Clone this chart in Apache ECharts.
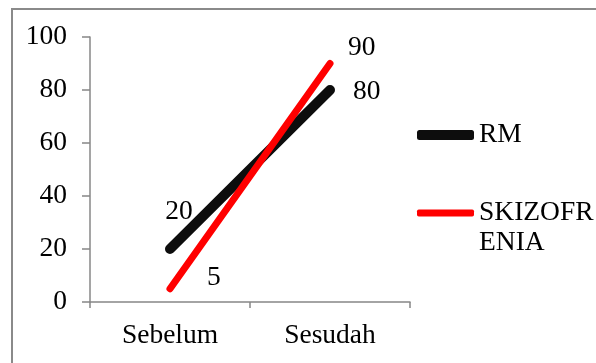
<!DOCTYPE html>
<html><head><meta charset="utf-8">
<script src="https://cdn.jsdelivr.net/npm/echarts@6/dist/echarts.min.js"></script>
<style>html,body{margin:0;padding:0;background:#fff}#c{width:596px;height:363px}</style>
</head><body><div id="c"></div>
<script>
const categories = ['Sebelum', 'Sesudah'];
const rmValues = [20, 80];
const skizoValues = [5, 90];
const yTicks = [0, 20, 40, 60, 80, 100];
const seriesNames = ['RM', 'SKIZOFRENIA'];

const font = 'Liberation Serif';
const fs = 27.5;
const chart = echarts.init(document.getElementById('c'), null, {renderer: 'canvas'});
const lbl = (pos, dist, off) => ({show: true, position: pos, distance: dist, offset: off, color: '#000', fontFamily: font, fontSize: fs});

chart.setOption({
  animation: false,
  backgroundColor: '#fff',
  graphic: [{type: 'rect', shape: {x: 12, y: 9, width: 700, height: 500}, style: {fill: 'none', stroke: '#8a8a8a', lineWidth: 2}, silent: true}],
  grid: {left: 90, right: 186, top: 37, bottom: 61},
  xAxis: {
    type: 'category', data: categories, boundaryGap: true,
    axisLine: {lineStyle: {color: '#878787', width: 1.5}},
    axisTick: {show: true, length: 6, lineStyle: {color: '#878787', width: 1.5}},
    axisLabel: {color: '#000', fontFamily: font, fontSize: fs, margin: 20}
  },
  yAxis: {
    type: 'value', min: yTicks[0], max: yTicks[yTicks.length - 1], interval: 20,
    splitLine: {show: false},
    axisLine: {show: true, lineStyle: {color: '#878787', width: 1.5}},
    axisTick: {show: true, length: 8, lineStyle: {color: '#878787', width: 1.5}},
    axisLabel: {color: '#000', fontFamily: font, fontSize: fs, margin: 23}
  },
  legend: [
    {data: [seriesNames[0]], orient: 'vertical', left: 417, top: 120, padding: 0, icon: 'roundRect', itemWidth: 57, itemHeight: 10,
     textStyle: {color: '#000', fontFamily: font, fontSize: fs, lineHeight: 30}},
    {data: [seriesNames[1]], orient: 'vertical', left: 417, top: 168, padding: 0, icon: 'roundRect', itemWidth: 57, itemHeight: 7,
     formatter: n => '{a|}\n{a|' + n.slice(0, 7) + '}\n{a|' + n.slice(7) + '}',
     textStyle: {color: '#000', fontFamily: font, fontSize: fs, lineHeight: 30,
       rich: {a: {color: '#000', fontFamily: font, fontSize: fs, lineHeight: 30, height: 30}}}}
  ],
  series: [
    {name: seriesNames[0], type: 'line', showSymbol: true, symbol: 'circle', symbolSize: 0.1, color: '#0d0d0d',
     lineStyle: {width: 10, color: '#0d0d0d', cap: 'round'},
     data: [
       {value: rmValues[0], label: lbl('top', 23, [9, 0])},
       {value: rmValues[1], label: lbl('right', 23, [0, 2])}
     ]},
    {name: seriesNames[1], type: 'line', showSymbol: true, symbol: 'circle', symbolSize: 0.1, color: '#ff0000',
     lineStyle: {width: 7, color: '#ff0000', cap: 'round'},
     data: [
       {value: skizoValues[0], label: lbl('right', 37, [0, -11])},
       {value: skizoValues[1], label: lbl('right', 18, [0, -16])}
     ]}
  ]
});
</script></body></html>
